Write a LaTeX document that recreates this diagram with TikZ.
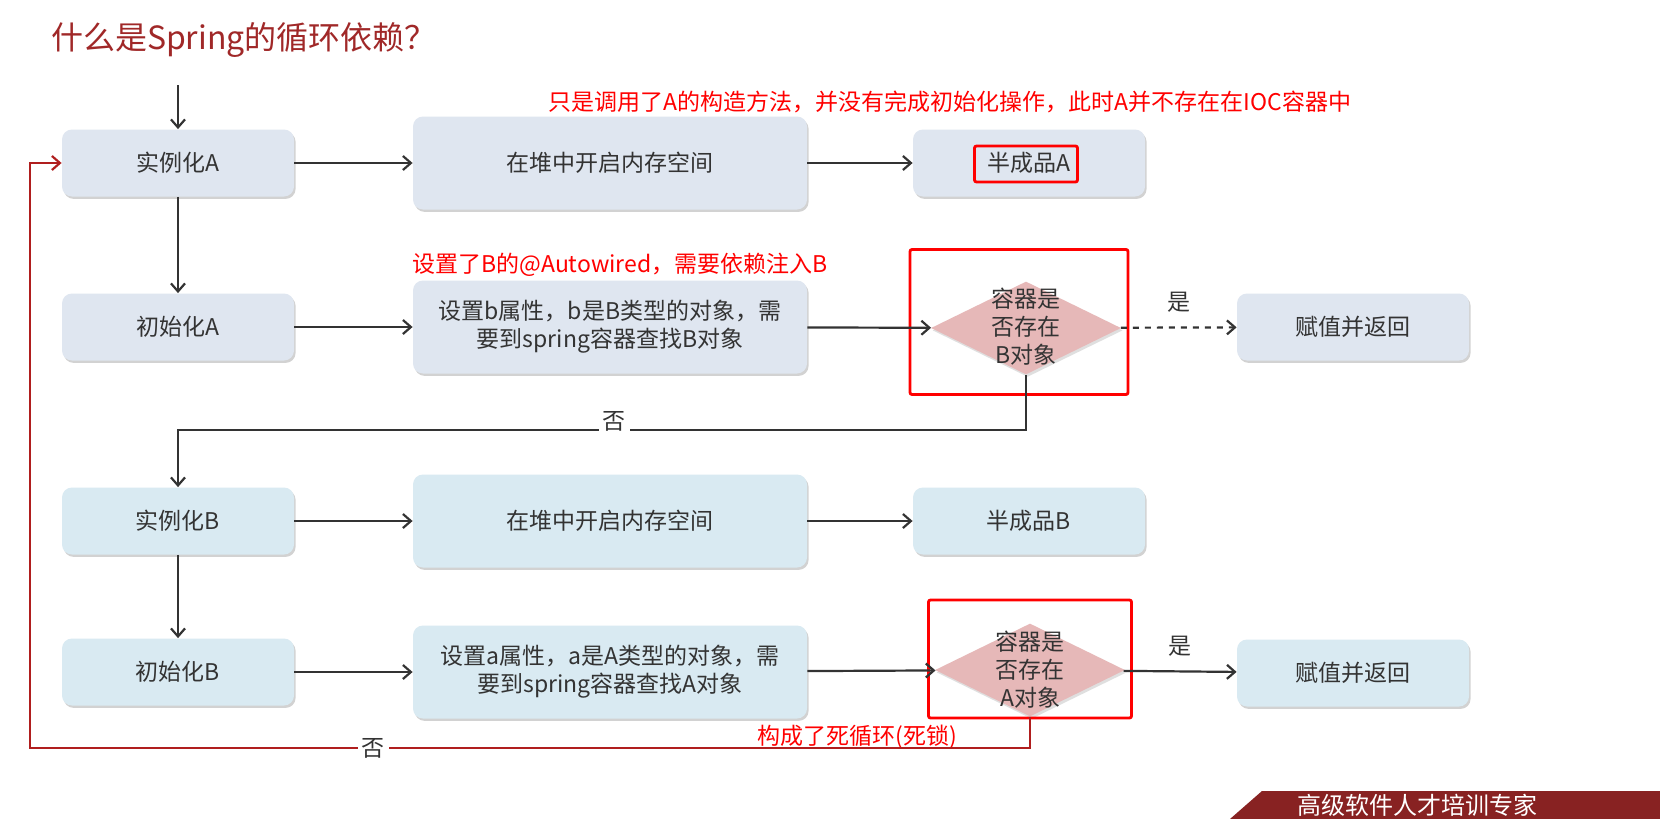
\documentclass[tikz,border=0pt]{standalone}
\usepackage{fontspec}
\setmainfont{Noto Sans CJK SC}
\newfontfamily\cjk{Noto Sans CJK SC}
\usetikzlibrary{shapes.geometric,shadows,arrows.meta}
\definecolor{boxA}{HTML}{DFE6F0}
\definecolor{boxB}{HTML}{D9EAF2}
\definecolor{dia}{HTML}{E6B8B8}
\definecolor{txt}{HTML}{333333}
\definecolor{ttl}{HTML}{A02828}
\definecolor{loopc}{HTML}{B01E1E}
\begin{document}
\begin{tikzpicture}[x=0.5pt,y=-0.5pt,
  box/.style={draw=none,rounded corners=5pt,minimum width=116pt,minimum height=33.5pt,text=txt,font=\fontsize{11.5}{14}\selectfont,align=center,drop shadow={opacity=0.35,shadow xshift=0.8pt,shadow yshift=-1.2pt}},
  bigbox/.style={box,minimum width=197pt,minimum height=46.5pt},
  dec/.style={diamond,fill=dia,aspect=2.05,minimum width=95pt,minimum height=46.5pt,inner sep=0pt,drop shadow={opacity=0.25,shadow xshift=0.8pt,shadow yshift=-1.2pt}},
  dectxt/.style={text=txt,align=center,font=\fontsize{11.5}{14}\selectfont},
  arr/.style={draw=txt,line width=1.1pt,-{Straight Barb[length=4pt,width=7pt]}},
  redtxt/.style={text=red,font=\fontsize{11.5}{14}\selectfont},
  redframe/.style={draw=red,line width=1.4pt,rounded corners=1pt},
  lbl/.style={fill=white,text=txt,font=\fontsize{11.5}{14}\selectfont,inner sep=2pt}]
\useasboundingbox (0,0) rectangle (1660,819);
\fill[white] (0,0) rectangle (1660,819);
\node[anchor=west,text=ttl,font=\fontsize{16}{19}\selectfont] (title) at (44,40) {什么是Spring的循环依赖？};
% row 1
\node[box,fill=boxA] (ia) at (178,163) {实例化A};
\node[bigbox,fill=boxA] (ha) at (610,163) {在堆中开启内存空间};
\node[box,fill=boxA] (ba) at (1029,163) {半成品A};
\node[redframe,minimum width=51.5pt,minimum height=18pt] (fa) at (1026,164) {};
\coordinate (top) at (178,85);
\node[redtxt] (n1) at (950,102) {只是调用了A的构造方法，并没有完成初始化操作，此时A并不存在在IOC容器中};
% row 2
\node[box,fill=boxA] (ina) at (178,327) {初始化A};
\node[bigbox,fill=boxA] (sb) at (610,327) {设置b属性，b是B类型的对象，需\\要到spring容器查找B对象};
\node[dec] (db) at (1026,328) {};
\node[dectxt] (dbt) at (1026,327) {容器是\\否存在\\B对象};
\node[redframe,minimum width=109pt,minimum height=72.5pt] (fb) at (1019,322) {};
\node[box,fill=boxA] (ra) at (1353,327) {赋值并返回};
\node[redtxt] (n2) at (620,265) {设置了B的@Autowired，需要依赖注入B};
% row 3
\node[box,fill=boxB] (ib) at (178,521) {实例化B};
\node[bigbox,fill=boxB] (hb) at (610,521) {在堆中开启内存空间};
\node[box,fill=boxB] (bb) at (1029,521) {半成品B};
% row 4
\node[box,fill=boxB] (inb) at (178,672) {初始化B};
\node[bigbox,fill=boxB] (sa) at (610,672) {设置a属性，a是A类型的对象，需\\要到spring容器查找A对象};
\node[dec] (da) at (1030,670) {};
\node[dectxt] (dat) at (1030,670) {容器是\\否存在\\A对象};
\node[redframe,minimum width=101.5pt,minimum height=59pt] (fc) at (1030,659) {};
\node[box,fill=boxB] (rb) at (1353,673) {赋值并返回};
\node[redtxt] (n3) at (857,737) {构成了死循环(死锁)};
% arrows
\draw[arr] (top) -- (ia);
\draw[arr] (ia) -- (ha);
\draw[arr] (ha) -- (ba);
\draw[arr] (ia) -- (ina);
\draw[arr] (ina) -- (sb);
\draw[arr] (sb) -- (db);
\draw[arr,dashed] (db) -- (ra) node[midway,above=5pt,lbl,fill=none] {是};
\draw[arr] (db.south) -- (1026,430) -- (178,430) -- (ib.north);
\node[lbl] (no1) at (614,421) {否};
\draw[arr] (ib) -- (hb);
\draw[arr] (hb) -- (bb);
\draw[arr] (ib) -- (inb);
\draw[arr] (inb) -- (sa);
\draw[arr] (sa) -- (da);
\draw[arr] (da) -- (rb) node[midway,above=5pt,lbl,fill=none] {是};
\draw[arr,draw=loopc] (da.south) -- (1030,748) -- (30,748) -- (30,163) -- (ia.west);
\node[lbl] (no2) at (373,748) {否};
% banner
\fill[ttl!85!black] (1230,819) -- (1262,791) -- (1660,791) -- (1660,819) -- cycle;
\node[text=white,font=\fontsize{12}{14}\selectfont\cjk,anchor=west] (bn) at (1290,805) {高级软件人才培训专家};
\end{tikzpicture}
\end{document}
